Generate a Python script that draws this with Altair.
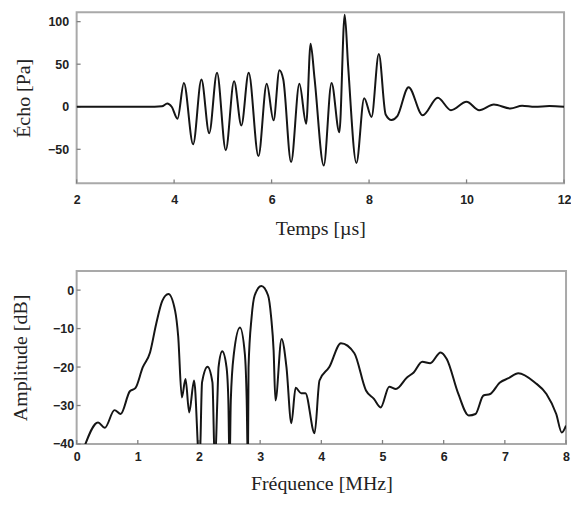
import altair as alt
import pandas as pd

# ---- Echo signal (top panel) ----
echo_t = [2.0, 3.6, 3.75, 3.86, 3.95, 4.07, 4.20, 4.39, 4.56, 4.72, 4.88, 5.06, 5.23,
          5.38, 5.53, 5.73, 5.90, 6.04, 6.16, 6.24, 6.40, 6.57, 6.71, 6.80, 6.88, 7.07,
          7.23, 7.39, 7.50, 7.57, 7.74, 7.90, 8.05, 8.20, 8.34, 8.46, 8.58, 8.81, 9.10,
          9.41, 9.68, 10.0, 10.26, 10.56, 10.90, 11.14, 11.4, 11.7, 12.0]
echo_pa = [0, 0, 0.5, 3.8, 0, -14, 28, -44, 32, -31, 40, -51, 30,
           -22, 40, -58, 27, -16, 43, 32, -65, 27, -20, 74, 34, -69,
           28, -30, 108, 48, -66, 10, -12, 62, -9, -15.5, -11, 23, -10,
           10.5, -4, 5.8, -4, 2.7, -2, 1.2, 0, 0.8, 0]

# ---- Spectrum (bottom panel) ----
freq_mhz = [0.12, 0.35, 0.46, 0.62, 0.72, 0.87, 0.96, 1.08, 1.20, 1.30, 1.40, 1.50,
            1.61, 1.66, 1.72, 1.78, 1.84, 1.92, 2.01,
            2.05, 2.14, 2.22, 2.26,
            2.30, 2.32, 2.38, 2.45, 2.48, 2.50,
            2.52, 2.57, 2.67, 2.75, 2.78, 2.80,
            2.81, 2.86, 2.91, 3.02, 3.13, 3.18, 3.22, 3.25, 3.35, 3.43, 3.51, 3.58,
            3.67, 3.74, 3.89,
            3.97, 4.13, 4.32, 4.54, 4.73, 4.86, 4.97, 5.11, 5.22, 5.40, 5.51, 5.65,
            5.78, 5.95, 6.05, 6.24, 6.41, 6.52, 6.65, 6.76, 6.92, 7.06, 7.22, 7.49,
            7.68, 7.84, 7.93, 8.0]
amp_db = [-41, -34.4, -35.8, -31.2, -32.2, -26.3, -25.5, -20.1, -16.2, -8.8, -2.8, -1.0,
          -5.4, -12, -27.9, -23.1, -31.8, -23.5, -46,
          -24, -19.9, -24, -46,
          -28.7, -20, -15.9, -20, -28.7, -46,
          -28.7, -16.6, -9.7, -16.6, -28.7, -46,
          -20.1, -7.1, -1.4, 1.1, -1.4, -7.1, -15.7, -28.7, -12.7, -20, -34.6, -25.4,
          -26.8, -26.8, -37.2,
          -23.5, -20, -13.8, -16.4, -26.1, -28.3, -30.5, -25.1, -25.7, -22.7, -21.4, -18.6,
          -19, -16.2, -17.9, -27, -32.6, -32.2, -27.4, -27, -24, -22.9, -21.6, -24,
          -27, -32.2, -37, -35.2]

echo_xticks = [2, 4, 6, 8, 10, 12]
echo_yticks = [-50, 0, 50, 100]
spec_xticks = [0, 1, 2, 3, 4, 5, 6, 7, 8]
spec_yticks = [-40, -30, -20, -10, 0]

LABEL_FONT = "Liberation Sans"
TITLE_FONT = "Liberation Serif"
LINE_COLOR = "#151515"
TICK_COLOR = "#808080"
FRAME = "#a9a9a9"

W1, H1 = 490, 172
W2, H2 = 492, 174


def axis(vals, title, lpad, tpad):
    return alt.Axis(values=vals, title=title, ticks=False, domain=False, grid=False,
                    format="d",
                    labelFont=LABEL_FONT, labelFontSize=12.5, labelFontWeight="bold",
                    labelColor="#222222", labelPadding=lpad,
                    titleFont=TITLE_FONT, titleFontSize=20, titleFontWeight="normal",
                    titleColor="#222222", titlePadding=tpad, labelFlush=False)


def frame(w, h):
    return alt.Chart(pd.DataFrame({"a": [0]})).mark_rect(
        filled=False, stroke=FRAME, strokeWidth=2).encode(
        x=alt.value(0), x2=alt.value(w), y=alt.value(0), y2=alt.value(h))


echo_df = pd.DataFrame({"t": echo_t, "v": echo_pa})
spec_df = pd.DataFrame({"t": freq_mhz, "v": amp_db})

xs1 = alt.Scale(domain=[2, 12], nice=False, zero=False)
ys1 = alt.Scale(domain=[-90, 111], nice=False, zero=False)
xs2 = alt.Scale(domain=[0, 8], nice=False, zero=False)
ys2 = alt.Scale(domain=[-40, 5], nice=False, zero=False)

top_line = alt.Chart(echo_df).mark_line(color=LINE_COLOR, strokeWidth=2, clip=True,
                                        interpolate="monotone").encode(
    x=alt.X("t:Q", scale=xs1, axis=axis(echo_xticks, "Temps [µs]", 10, 13)),
    y=alt.Y("v:Q", scale=ys1, axis=axis(echo_yticks, "Écho [Pa]", 8, 14)),
)
top_xt = alt.Chart(pd.DataFrame({"t": echo_xticks})).mark_rule(color=TICK_COLOR, strokeWidth=1.3).encode(
    x=alt.X("t:Q", scale=xs1), y=alt.value(H1), y2=alt.value(H1 - 4))
top_yt = alt.Chart(pd.DataFrame({"v": echo_yticks})).mark_rule(color=TICK_COLOR, strokeWidth=1.3).encode(
    y=alt.Y("v:Q", scale=ys1), x=alt.value(0), x2=alt.value(4))
top = alt.layer(frame(W1, H1), top_xt, top_yt, top_line).properties(width=W1, height=H1)

bot_line = alt.Chart(spec_df).mark_line(color=LINE_COLOR, strokeWidth=2, clip=True,
                                        interpolate="monotone").encode(
    x=alt.X("t:Q", scale=xs2, axis=axis(spec_xticks, "Fréquence [MHz]", 7, 10)),
    y=alt.Y("v:Q", scale=ys2, axis=axis(spec_yticks, "Amplitude [dB]", 3, 22)),
)
bot_xt = alt.Chart(pd.DataFrame({"t": spec_xticks})).mark_rule(color=TICK_COLOR, strokeWidth=1.3).encode(
    x=alt.X("t:Q", scale=xs2), y=alt.value(H2), y2=alt.value(H2 - 4))
bot_yt = alt.Chart(pd.DataFrame({"v": spec_yticks})).mark_rule(color=TICK_COLOR, strokeWidth=1.3).encode(
    y=alt.Y("v:Q", scale=ys2), x=alt.value(0), x2=alt.value(4))
bot = alt.layer(frame(W2, H2), bot_xt, bot_yt, bot_line).properties(width=W2, height=H2)

chart = alt.vconcat(top, bot, spacing=31).properties(
    padding={"left": 2, "top": 2, "right": 0, "bottom": 0},
    background="white",
).configure_view(strokeWidth=0)

chart.save("out.html", embed_options={"renderer": "svg", "actions": False})
